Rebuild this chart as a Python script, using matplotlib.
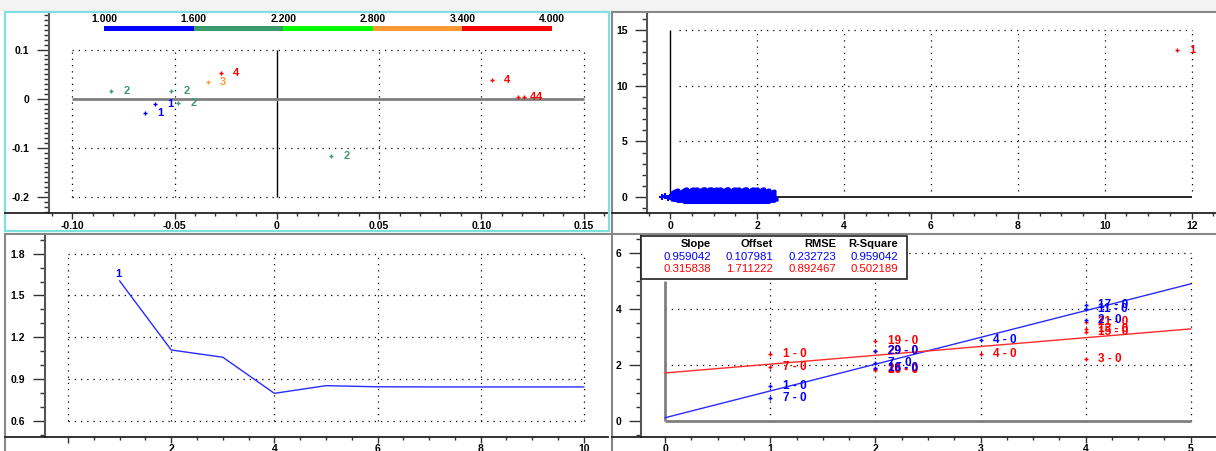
import numpy as np
import matplotlib as mpl
import matplotlib.pyplot as plt
import matplotlib.patheffects as pe
from matplotlib.colors import ListedColormap, BoundaryNorm
from matplotlib.lines import Line2D
from matplotlib.patches import Rectangle
from matplotlib.ticker import MultipleLocator

plt.rcParams['font.family'] = ['Liberation Sans', 'DejaVu Sans']

# --- DATOS ---
# escala de colores (arriba a la izquierda)
niveles = [1.0, 1.6, 2.2, 2.8, 3.4, 4.0]
colores_niveles = ['#0000ff', '#3a9a6c', '#00ff00', '#ff9933', '#ff0000']

# puntos del panel superior izquierdo (x, y, clase)
pca_x = [-0.0809, -0.0517, -0.0598, -0.0646, -0.0481, -0.0339, -0.0273, 0.0265, 0.105, 0.118, 0.1208]
pca_y = [0.0164, 0.0164, -0.0116, -0.030, -0.0096, 0.0341, 0.0526, -0.116, 0.0375, 0.0027, 0.0027]
pca_clase = [2, 2, 1, 1, 2, 3, 4, 2, 4, 4, 4]

# panel superior derecho: nube azul cerca de cero y un punto rojo
nube_x = [-0.18, -0.12, -0.06, 0.0, 0.05, 0.1, 0.16, 0.22, 0.28, 0.34, 0.4, 0.46, 0.52, 0.58,
          0.64, 0.7, 0.76, 0.82, 0.88, 0.94, 1.0, 1.06, 1.12, 1.18, 1.24, 1.3, 1.36, 1.42,
          1.48, 1.54, 1.6, 1.66, 1.72, 1.78, 1.84, 1.9, 1.96, 2.02]
nube_y = [0.0, 0.1, -0.1, 0.0, 0.1, -0.2, 0.2, -0.2, 0.1, -0.2, 0.2, 0.0, -0.2, 0.2,
          -0.1, 0.2, -0.2, 0.1, -0.1, 0.2, -0.2, 0.0, 0.2, -0.2, 0.1, -0.1, 0.2, -0.2,
          0.0, 0.2, -0.2, 0.1, -0.1, 0.2, -0.2, 0.1, -0.1, 0.0]
nube_et = ['1', '1', '1', '1', '1', '1', '11', '11', '11', '11', '11', '11', '11', '11',
           '11', '11', '11', '11', '11', '11', '11', '11', '11', '11', '11', '11', '11', '11',
           '11', '11', '11', '11', '11', '11', '11', '11', '11', '11']
rojo_x = [11.67]
rojo_y = [13.2]

# panel inferior izquierdo: curva
iteracion = [1, 2, 3, 4, 5, 6, 7, 8, 9, 10]
error_iter = [1.604, 1.109, 1.057, 0.798, 0.853, 0.845, 0.844, 0.844, 0.844, 0.844]

# panel inferior derecho: dos series con regresion
azul_x = [1, 1, 2, 2, 2, 3, 4, 4, 4]
azul_y = [1.25, 0.80, 2.48, 2.05, 1.88, 2.88, 4.15, 4.02, 3.62]
azul_et = ['1 - 0', '7 - 0', '29 - 0', '7 - 0', '16 - 0', '4 - 0', '17 - 0', '11 - 0', '2 - 0']
rojo2_x = [1, 1, 2, 2, 2, 2, 3, 4, 4, 4, 4]
rojo2_y = [2.38, 1.92, 2.86, 2.50, 1.85, 1.80, 2.38, 3.52, 3.30, 3.18, 2.22]
rojo2_et = ['1 - 0', '7 - 0', '19 - 0', '29 - 0', '26 - 0', '16 - 0', '4 - 0', '21 - 0', '13 - 0', '15 - 0', '3 - 0']

cabecera = ['Slope', 'Offset', 'RMSE', 'R-Square']
stats_azul = [0.959042, 0.107981, 0.232723, 0.959042]
stats_rojo = [0.315838, 1.711222, 0.892467, 0.502189]

W, H = 1216, 451
fig = plt.figure(figsize=(W / 100, H / 100), dpi=100)


def rect(l, t, r, b):
    return [l / W, 1 - b / H, (r - l) / W, (b - t) / H]


def linea_fig(x0, y0, x1, y1, **kw):
    fig.add_artist(Line2D([x0 / W, x1 / W], [1 - y0 / H, 1 - y1 / H], transform=fig.transFigure, **kw))


def estilo(ax, xt, xl, yt, yl, xmin, ymin):
    ax.set_xticks(xt)
    ax.set_xticklabels(xl)
    ax.set_yticks(yt)
    ax.set_yticklabels(yl)
    ax.xaxis.set_minor_locator(MultipleLocator(xmin))
    ax.yaxis.set_minor_locator(MultipleLocator(ymin))
    ax.tick_params(axis='y', which='major', length=9, width=1, pad=5, labelsize=7.5, color='#333')
    ax.tick_params(axis='y', which='minor', length=3.5, width=1, color='#333')
    ax.tick_params(axis='x', which='major', length=4, width=1, pad=1.5, labelsize=7.5, color='#333')
    ax.tick_params(axis='x', which='minor', length=2.5, width=1, color='#333')
    for lab in ax.get_xticklabels() + ax.get_yticklabels():
        lab.set_fontweight('bold')
    ax.spines['top'].set_visible(False)
    ax.spines['right'].set_visible(False)
    ax.spines['left'].set_color('#555555')
    ax.spines['left'].set_linewidth(1.5)
    ax.spines['bottom'].set_color('#222222')
    ax.spines['bottom'].set_linewidth(1.3)
    ax.patch.set_alpha(0)


punteado = dict(colors='black', linestyles=(0, (1, 4)), linewidth=0.9)


def color_clase(v):
    i = min(np.searchsorted(niveles, v, side='right') - 1, len(colores_niveles) - 1)
    return colores_niveles[i]


# fondo de la franja superior y marcos de los paneles
fig.add_artist(Rectangle((0, 1 - 11 / H), 1, 11 / H, transform=fig.transFigure, fc='#f3f3f3', ec='none'))
linea_fig(612, 12, 612, 451, color='#888888', lw=1.5)
linea_fig(612, 12, 1216, 12, color='#888888', lw=1.5)
linea_fig(5, 234, 1216, 234, color='#888888', lw=1.5)
linea_fig(5, 234, 5, 451, color='#888888', lw=1.5)
fig.add_artist(Rectangle((5 / W, 1 - 231 / H), 604 / W, 219 / H, transform=fig.transFigure,
                         fill=False, ec='#80e0e0', lw=1.6))

# --- PANEL SUPERIOR IZQUIERDO ---
ax1 = fig.add_axes(rect(48.6, 12, 608, 213))
ax1.set_xlim(-0.1116, 0.1619)
ax1.set_ylim(-0.2328, 0.1766)
xt1 = [-0.10, -0.05, 0, 0.05, 0.10, 0.15]
yt1 = [-0.2, -0.1, 0, 0.1]
ax1.vlines([t for t in xt1 if t != 0], -0.2, 0.1, **punteado)
ax1.hlines([t for t in yt1 if t != 0], -0.10, 0.15, **punteado)
ax1.vlines([0], -0.2, 0.1, colors='black', linewidth=1)
ax1.hlines([0], -0.10, 0.15, colors='#808080', linewidth=2)
for x, y, c in zip(pca_x, pca_y, pca_clase):
    col = color_clase(c)
    ax1.plot(x, y, '+', color=col, ms=3, mew=1)
    ax1.annotate(str(c), (x, y), xytext=(11, 0), textcoords='offset points', color=col,
                 fontsize=8, fontweight='bold', ha='center', va='center')
estilo(ax1, xt1, ['-0.10', '-0.05', '0', '0.05', '0.10', '0.15'],
       yt1, ['-0.2', '-0.1', '0', '0.1'], 0.01, 0.01)
linea_fig(5, 213, 48.6, 213, color='#222222', lw=1.3)

# barra de colores
cax = fig.add_axes(rect(104, 26, 552, 31))
cmap = ListedColormap(colores_niveles)
norm = BoundaryNorm(niveles, cmap.N)
cb = mpl.colorbar.ColorbarBase(cax, cmap=cmap, norm=norm, orientation='horizontal', ticks=niveles)
cb.outline.set_visible(False)
cax.xaxis.set_ticks_position('top')
cax.set_xticklabels([f'{v:.3f}' for v in niveles])
cax.tick_params(length=0, pad=1.5, labelsize=7.5)
for lab in cax.get_xticklabels():
    lab.set_fontweight('bold')

# --- PANEL SUPERIOR DERECHO ---
ax2 = fig.add_axes(rect(647, 12, 1216, 213))
ax2.set_xlim(-0.536, 12.56)
ax2.set_ylim(-1.41, 16.59)
xt2 = [0, 2, 4, 6, 8, 10, 12]
yt2 = [0, 5, 10, 15]
ax2.vlines(xt2[1:], 0.6, 15, **punteado)
ax2.hlines(yt2[1:], 0.2, 12, **punteado)
ax2.vlines([0], 0, 15, colors='black', linewidth=1)
ax2.hlines([0], 0, 12, colors='black', linewidth=1.2)
ax2.plot(nube_x, nube_y, '+', color='#0000ff', ms=4, mew=1.5)
trazo = [pe.withStroke(linewidth=2.2, foreground='#0000ff')]
for x, y, e in zip(nube_x, nube_y, nube_et):
    ax2.annotate(e, (x, y), xytext=(9, 0), textcoords='offset points', color='#0000ff',
                 fontsize=9.5, fontweight='bold', ha='center', va='center', path_effects=trazo)
ax2.plot(rojo_x, rojo_y, '+', color='#ff0000', ms=3, mew=1)
for x, y in zip(rojo_x, rojo_y):
    ax2.annotate('1', (x, y), xytext=(11, 0), textcoords='offset points', color='#ff0000',
                 fontsize=8, fontweight='bold', ha='center', va='center', annotation_clip=False)
estilo(ax2, xt2, [str(t) for t in xt2], yt2, [str(t) for t in yt2], 0.5, 1)
linea_fig(612, 213, 647, 213, color='#222222', lw=1.3)

# --- PANEL INFERIOR IZQUIERDO ---
ax3 = fig.add_axes(rect(44.7, 234, 608, 436.7))
ax3.set_xlim(-0.454, 10.47)
ax3.set_ylim(0.487, 1.941)
xt3 = [0, 2, 4, 6, 8, 10]
yt3 = [0.6, 0.9, 1.2, 1.5, 1.8]
ax3.vlines(xt3, 0.6, 1.8, **punteado)
ax3.hlines(yt3, 0, 10, **punteado)
ax3.plot(iteracion, error_iter, color='#2a2aff', lw=1)
ax3.annotate('1', (iteracion[0], error_iter[0]), xytext=(-1, 5), textcoords='offset points',
             color='#0000ff', fontsize=8, fontweight='bold', ha='center', va='center')
estilo(ax3, xt3, [''] + [str(t) for t in xt3[1:]], yt3, [f'{t:.1f}' for t in yt3], 0.5, 0.1)
linea_fig(5, 436.7, 44.7, 436.7, color='#222222', lw=1.3)

# --- PANEL INFERIOR DERECHO ---
ax4 = fig.add_axes(rect(641, 234, 1216, 436.7))
ax4.set_xlim(-0.230, 5.24)
ax4.set_ylim(-0.573, 6.69)
xt4 = [0, 1, 2, 3, 4, 5]
yt4 = [0, 2, 4, 6]
ax4.vlines(xt4[1:], 0, 6, **punteado)
ax4.hlines(yt4[1:], 0, 5, **punteado)
ax4.hlines([0], 0, 5, colors='#808080', linewidth=2)
ax4.vlines([0], 0, 5, colors='#808080', linewidth=2)
xr = np.array([0, 5])
ax4.plot(xr, stats_azul[0] * xr + stats_azul[1], color='#2a2aff', lw=1)
ax4.plot(xr, stats_rojo[0] * xr + stats_rojo[1], color='#ff2a2a', lw=1)
for xs, ys, ets, col in [(rojo2_x, rojo2_y, rojo2_et, '#ff0000'), (azul_x, azul_y, azul_et, '#0000ff')]:
    ax4.plot(xs, ys, '+', color=col, ms=3, mew=1)
    for x, y, e in zip(xs, ys, ets):
        ax4.annotate(e, (x, y), xytext=(9, 0), textcoords='offset points', color=col,
                     fontsize=8.5, fontweight='bold', ha='left', va='center')
estilo(ax4, xt4, [str(t) for t in xt4], yt4, [str(t) for t in yt4], 0.25, 0.5)
linea_fig(612, 436.7, 641, 436.7, color='#222222', lw=1.3)

# tabla de regresion
fig.add_artist(Rectangle((641 / W, 1 - 279 / H), 266 / W, 43 / H, transform=fig.transFigure,
                         fc='white', ec='#222222', lw=1.2, zorder=10))
col_x = [711, 773, 836, 898]
for cx, h, a, r in zip(col_x, cabecera, stats_azul, stats_rojo):
    fig.text(cx / W, 1 - 244.3 / H, h, ha='right', va='center', fontsize=8, fontweight='bold', zorder=11)
    fig.text(cx / W, 1 - 256.7 / H, f'{a:.6f}', ha='right', va='center', fontsize=8.2, color='#0000ff', zorder=11)
    fig.text(cx / W, 1 - 269 / H, f'{r:.6f}', ha='right', va='center', fontsize=8.2, color='#ff0000', zorder=11)

fig.savefig('out.png', dpi=100)
